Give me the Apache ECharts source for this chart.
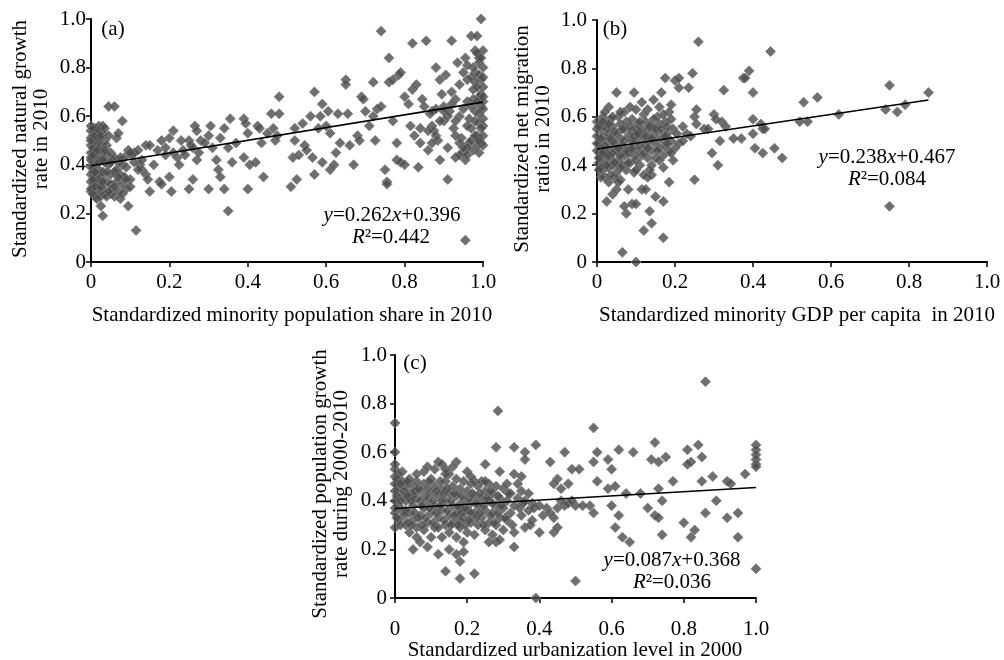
<!DOCTYPE html>
<html><head><meta charset="utf-8">
<script src="https://cdn.jsdelivr.net/npm/echarts@6/dist/echarts.min.js"></script>
<style>html,body{margin:0;padding:0;background:#fff}#c{width:1004px;height:660px}</style>
</head><body><div id="c"></div>
<script>
const tickValues = [0, 0.2, 0.4, 0.6, 0.8, 1.0];

const panelA = [
[0,0.29],[0,0.33],[0,0.36],[0,0.39],[0,0.42],[0,0.45],[0,0.48],[0,0.51],[0,0.54],[0,0.56],[0.005,0.31],[0.005,0.37],[0.005,0.41],[0.005,0.47],[0.005,0.52],[0.01,0.27],[0.01,0.34],[0.01,0.40],[0.01,0.44],[0.01,0.50],[0.01,0.55],[0.015,0.30],[0.015,0.36],[0.015,0.43],[0.015,0.49],[0.015,0.53],[0.02,0.28],[0.02,0.33],[0.02,0.38],[0.02,0.46],[0.02,0.51],[0.02,0.56],[0.025,0.23],[0.025,0.27],[0.025,0.35],[0.025,0.42],[0.025,0.48],[0.03,0.19],[0.03,0.30],[0.03,0.37],[0.03,0.45],[0.03,0.53],[0.03,0.56],[0.035,0.28],[0.035,0.41],[0.035,0.50],[0.04,0.27],[0.04,0.33],[0.04,0.44],[0.04,0.48],[0.045,0.64],[0.045,0.40],[0.05,0.28],[0.05,0.36],[0.05,0.45],[0.055,0.30],[0.055,0.42],[0.06,0.64],[0.06,0.27],[0.06,0.37],[0.06,0.43],[0.065,0.51],[0.065,0.33],[0.07,0.53],[0.07,0.41],[0.07,0.29],[0.075,0.26],[0.075,0.36],[0.08,0.58],[0.08,0.40],[0.08,0.32],[0.085,0.35],[0.085,0.43],[0.09,0.30],[0.09,0.39],[0.095,0.23],[0.095,0.46],[0.10,0.34],[0.10,0.31],[0.105,0.44],[0.11,0.45],[0.115,0.13],[0.12,0.46],[0.125,0.40],[0.13,0.38],[0.13,0.42],[0.14,0.48],[0.14,0.36],[0.145,0.34],[0.15,0.48],[0.15,0.29],[0.16,0.40],[0.17,0.46],[0.175,0.33],[0.18,0.50],[0.18,0.32],[0.19,0.47],[0.19,0.44],[0.20,0.51],[0.20,0.35],[0.205,0.29],[0.21,0.54],[0.21,0.45],[0.22,0.43],[0.225,0.40],[0.23,0.50],[0.235,0.46],[0.24,0.44],[0.25,0.30],[0.25,0.50],[0.255,0.48],[0.26,0.34],[0.26,0.47],[0.265,0.56],[0.27,0.42],[0.27,0.54],[0.275,0.45],[0.28,0.50],[0.29,0.49],[0.30,0.52],[0.30,0.30],[0.305,0.56],[0.31,0.47],[0.32,0.42],[0.325,0.38],[0.33,0.51],[0.33,0.35],[0.34,0.30],[0.34,0.55],[0.35,0.21],[0.35,0.47],[0.355,0.59],[0.36,0.41],[0.37,0.49],[0.39,0.43],[0.39,0.59],[0.395,0.57],[0.40,0.30],[0.40,0.53],[0.405,0.40],[0.42,0.41],[0.425,0.56],[0.43,0.55],[0.435,0.49],[0.44,0.35],[0.45,0.53],[0.46,0.61],[0.465,0.55],[0.47,0.50],[0.475,0.52],[0.48,0.68],[0.48,0.61],[0.51,0.31],[0.515,0.43],[0.52,0.50],[0.52,0.55],[0.525,0.34],[0.53,0.44],[0.54,0.57],[0.545,0.48],[0.55,0.46],[0.56,0.60],[0.565,0.43],[0.57,0.36],[0.57,0.70],[0.58,0.55],[0.585,0.60],[0.59,0.41],[0.59,0.65],[0.60,0.56],[0.605,0.62],[0.61,0.38],[0.61,0.53],[0.62,0.40],[0.625,0.45],[0.63,0.61],[0.635,0.49],[0.65,0.75],[0.65,0.73],[0.655,0.61],[0.66,0.48],[0.67,0.40],[0.68,0.52],[0.685,0.50],[0.69,0.68],[0.695,0.67],[0.70,0.62],[0.71,0.56],[0.72,0.60],[0.72,0.74],[0.725,0.50],[0.73,0.63],[0.74,0.64],[0.74,0.95],[0.75,0.38],[0.755,0.33],[0.755,0.32],[0.76,0.74],[0.76,0.84],[0.77,0.75],[0.77,0.58],[0.78,0.42],[0.78,0.49],[0.785,0.77],[0.79,0.78],[0.79,0.41],[0.80,0.40],[0.80,0.68],[0.81,0.65],[0.815,0.56],[0.82,0.90],[0.82,0.71],[0.825,0.52],[0.83,0.73],[0.835,0.39],[0.84,0.55],[0.84,0.49],[0.845,0.67],[0.85,0.64],[0.855,0.91],[0.86,0.46],[0.865,0.61],[0.87,0.56],[0.87,0.62],[0.875,0.54],[0.88,0.52],[0.88,0.80],[0.885,0.50],[0.89,0.75],[0.89,0.42],[0.895,0.69],[0.90,0.64],[0.90,0.58],[0.905,0.77],[0.91,0.47],[0.91,0.34],[0.915,0.62],[0.92,0.91],[0.92,0.70],[0.925,0.55],[0.93,0.67],[0.93,0.43],[0.935,0.82],[0.94,0.60],[0.94,0.73],[0.945,0.51],[0.95,0.78],[0.95,0.45],[0.955,0.84],[0.955,0.42],[0.96,0.66],[0.96,0.75],[0.965,0.49],[0.965,0.59],[0.97,0.93],[0.97,0.55],[0.975,0.71],[0.975,0.46],[0.98,0.87],[0.98,0.62],[0.98,0.78],[0.985,0.93],[0.985,0.52],[0.99,0.68],[0.99,0.84],[0.99,0.45],[0.99,0.57],[0.995,1.0],[0.995,0.75],[0.995,0.64],[0.995,0.49],[1.0,0.87],[1.0,0.72],[1.0,0.63],[1.0,0.48],[1.0,0.80],[1.0,0.56],[0.955,0.09],[0.985,0.86],[0.99,0.82],[0.995,0.69],[1,0.66],[1,0.59],[0.97,0.64],[0.96,0.47],[0.99,0.61],[0.98,0.74],[0.975,0.80],[0.985,0.48],
[0,0.30],[0,0.43],[0,0.50],[0.005,0.28],[0.005,0.34],[0.005,0.44],[0.005,0.55],[0.01,0.31],[0.01,0.37],[0.01,0.52],[0.015,0.26],[0.015,0.46],[0.02,0.41],[0.02,0.54],[0.025,0.31],[0.025,0.52],[0.03,0.33],[0.03,0.42],[0.035,0.46],[0.035,0.55],[0.04,0.37],[0.045,0.29],[0.045,0.52],[0.05,0.41],[0.05,0.32],[0.06,0.31],[0.065,0.38],[0.07,0.35],[0.075,0.43],[0.08,0.28],[0.09,0.34],[0.1,0.45],[0.11,0.41],[0.12,0.38],
[0.9,0.62],[0.92,0.65],[0.93,0.58],[0.94,0.49],[0.95,0.63],[0.96,0.56],[0.96,0.81],[0.97,0.50],[0.97,0.76],[0.975,0.67],[0.98,0.52],[0.98,0.58],[0.985,0.66],[0.985,0.72],[0.99,0.77],[0.99,0.50],[0.995,0.55],[0.995,0.84],[1.0,0.76],[1.0,0.68],[1.0,0.52],[0.94,0.44],[0.95,0.47],[0.96,0.44],[0.93,0.52],[0.91,0.60],[0.89,0.58],[0.88,0.63],[0.87,0.49],[0.86,0.54]
];

const panelB = [
[0.26,0.91],[0.445,0.87],[0.175,0.76],[0.2,0.75],[0.21,0.76],[0.21,0.72],[0.235,0.72],[0.245,0.78],[0.325,0.71],[0.375,0.76],[0.38,0.76],[0.39,0.79],[0.40,0.70],[0.255,0.63],[0.25,0.60],[0.30,0.61],[0.305,0.59],[0.32,0.58],[0.33,0.56],[0.275,0.55],[0.285,0.55],[0.22,0.56],[0.255,0.57],[0.295,0.45],[0.31,0.40],[0.315,0.50],[0.35,0.51],[0.37,0.51],[0.40,0.59],[0.40,0.53],[0.405,0.47],[0.42,0.57],[0.425,0.55],[0.43,0.55],[0.425,0.45],[0.455,0.47],[0.475,0.43],[0.25,0.34],[0.52,0.58],[0.53,0.66],[0.54,0.58],[0.565,0.68],[0.62,0.61],[0.74,0.63],[0.75,0.73],[0.77,0.62],[0.79,0.65],[0.85,0.70],[0.75,0.23],
[0.065,0.04],[0.10,0.0],[0.17,0.10],[0.12,0.13],[0.14,0.16],[0.135,0.21],[0.075,0.20],[0.07,0.23],[0.09,0.24],[0.10,0.24],[0.025,0.25],[0.04,0.28],[0.05,0.30],[0.08,0.30],[0.115,0.30],[0.125,0.30],[0.15,0.27],[0.17,0.25],[0.185,0.33],[0.14,0.36],[0.13,0.35],[0.17,0.39],[0.195,0.42],
[0.05,0.70],[0.095,0.70],[0.03,0.64],[0.085,0.64],[0.115,0.66],[0.145,0.67],[0.165,0.70],[0.19,0.65],[0.16,0.64],[0.185,0.62],[0.155,0.60],[0.13,0.63],[0.12,0.61],[0.10,0.63],[0.07,0.62],[0.055,0.60],[0.035,0.59],[0.015,0.60],[0.0,0.58],[0.01,0.55],[0.02,0.57],[0.04,0.56],[0.06,0.57],[0.075,0.58],[0.09,0.59],[0.105,0.57],[0.125,0.58],[0.14,0.56],[0.16,0.57],[0.175,0.58],[0.195,0.55],[0.0,0.52],[0.005,0.49],[0.0,0.46],[0.01,0.44],[0.005,0.41],[0.015,0.38],[0.02,0.35],[0.015,0.52],[0.025,0.50],[0.03,0.47],[0.03,0.53],[0.035,0.43],[0.04,0.40],[0.04,0.50],[0.045,0.54],[0.05,0.46],[0.05,0.37],[0.055,0.42],[0.06,0.51],[0.06,0.34],[0.065,0.48],[0.07,0.55],[0.07,0.44],[0.075,0.38],[0.08,0.52],[0.085,0.47],[0.085,0.41],[0.09,0.54],[0.095,0.44],[0.095,0.37],[0.10,0.50],[0.105,0.46],[0.11,0.53],[0.11,0.40],[0.115,0.44],[0.12,0.51],[0.12,0.36],[0.125,0.48],[0.13,0.54],[0.13,0.43],[0.135,0.50],[0.14,0.46],[0.145,0.52],[0.15,0.49],[0.15,0.43],[0.155,0.54],[0.16,0.47],[0.165,0.51],[0.17,0.44],[0.175,0.48],[0.18,0.53],[0.185,0.46],[0.19,0.50],[0.2,0.47],[0.21,0.49],[0.22,0.50],[0.23,0.53],[0.24,0.52],[0.205,0.53],[0.0,0.49],[0.0,0.55],[0.01,0.47],[0.02,0.42],[0.025,0.45],[0.045,0.35],[0.055,0.33],[0.065,0.40],[0.08,0.45],[0.09,0.50],[0.1,0.55],[0.14,0.40],[0.16,0.42],[0.18,0.56],[0.145,0.59],[0.03,0.39],[0.02,0.62],[0.06,0.62],[0.11,0.58],[0.19,0.59],[0.17,0.61],
[0.005,0.43],[0.005,0.56],[0.01,0.39],[0.01,0.51],[0.015,0.45],[0.015,0.58],[0.02,0.48],[0.025,0.40],[0.025,0.55],[0.03,0.44],[0.035,0.51],[0.035,0.36],[0.04,0.45],[0.04,0.60],[0.045,0.41],[0.045,0.49],[0.05,0.53],[0.055,0.47],[0.06,0.44],[0.065,0.55],[0.07,0.50],[0.075,0.46],[0.08,0.41],[0.085,0.56],[0.09,0.47],[0.095,0.52],[0.1,0.42],[0.105,0.53],[0.11,0.48],[0.115,0.55],[0.12,0.45],[0.125,0.52],[0.13,0.47],[0.135,0.56],[0.14,0.51],[0.15,0.55],[0.155,0.46],[0.165,0.55],[0.175,0.52],[0.18,0.49],[0.19,0.45],[0.06,0.39],[0.03,0.57],[0.01,0.35],[0.005,0.38],[0.03,0.33],[0.1,0.38],[0.135,0.38]
];

const panelC = [
[0.285,0.77],[0.86,0.89],[0.0,0.72],[0.0,0.60],[0.55,0.70],[0.39,0.63],[0.72,0.64],[0.84,0.63],[1.0,0.63],[1.0,0.61],[1.0,0.59],[1.0,0.57],[1.0,0.55],[1.0,0.54],[0.28,0.62],[0.33,0.62],[0.36,0.60],[0.36,0.57],[0.43,0.56],[0.47,0.60],[0.56,0.60],[0.55,0.56],[0.59,0.57],[0.62,0.61],[0.66,0.60],[0.71,0.57],[0.73,0.56],[0.75,0.58],[0.81,0.61],[0.82,0.56],[0.81,0.55],[0.85,0.58],[0.97,0.51],[0.77,0.48],[0.88,0.50],[0.85,0.48],[0.92,0.48],[0.93,0.47],[0.6,0.53],[0.61,0.46],[0.59,0.45],[0.64,0.43],[0.68,0.43],[0.73,0.45],[0.56,0.48],[0.49,0.53],[0.51,0.53],[0.48,0.47],[0.45,0.49],[0.44,0.47],[0.46,0.45],[0.89,0.40],[0.74,0.40],[0.7,0.37],[0.72,0.34],[0.73,0.33],[0.54,0.38],[0.55,0.35],[0.6,0.38],[0.61,0.29],[0.62,0.34],[0.63,0.25],[0.65,0.23],[0.74,0.26],[0.8,0.31],[0.83,0.28],[0.82,0.25],[0.86,0.35],[0.92,0.33],[0.95,0.35],[0.95,0.25],[1.0,0.12],[0.5,0.07],[0.39,0.0],[0.4,0.27],[0.44,0.27],[0.45,0.29],[0.47,0.38],[0.42,0.37],[0.41,0.34],[0.44,0.33],[0.38,0.39],[0.5,0.38],[0.48,0.39],[0.52,0.38],[0.33,0.21],[0.18,0.08],[0.22,0.10],[0.14,0.11],[0.18,0.15],[0.05,0.20],[0.09,0.21],[0.12,0.18],[0.15,0.20],[0.17,0.18],[0.19,0.19],[0.26,0.23],[0.28,0.23],[0.29,0.24],
[0,0.29],[0,0.35],[0,0.40],[0,0.44],[0,0.47],[0,0.50],[0,0.53],[0,0.55],[0.01,0.32],[0.01,0.38],[0.01,0.45],[0.02,0.42],[0.02,0.36],[0.02,0.48],[0.03,0.30],[0.03,0.40],[0.03,0.46],[0.04,0.27],[0.04,0.35],[0.04,0.43],[0.04,0.49],[0.05,0.32],[0.05,0.38],[0.05,0.46],[0.06,0.25],[0.06,0.29],[0.06,0.41],[0.06,0.48],[0.07,0.23],[0.07,0.34],[0.07,0.44],[0.08,0.28],[0.08,0.37],[0.08,0.47],[0.08,0.52],[0.09,0.31],[0.09,0.40],[0.09,0.54],[0.10,0.25],[0.10,0.35],[0.10,0.43],[0.10,0.49],[0.11,0.29],[0.11,0.38],[0.11,0.46],[0.12,0.33],[0.12,0.42],[0.12,0.56],[0.13,0.25],[0.13,0.36],[0.13,0.45],[0.13,0.55],[0.14,0.30],[0.14,0.40],[0.14,0.48],[0.15,0.27],[0.15,0.34],[0.15,0.43],[0.15,0.51],[0.16,0.31],[0.16,0.38],[0.16,0.46],[0.17,0.25],[0.17,0.35],[0.17,0.42],[0.17,0.49],[0.17,0.56],[0.18,0.29],[0.18,0.37],[0.18,0.45],[0.19,0.23],[0.19,0.33],[0.19,0.40],[0.19,0.48],[0.20,0.27],[0.20,0.36],[0.20,0.44],[0.20,0.52],[0.21,0.31],[0.21,0.39],[0.21,0.47],[0.22,0.26],[0.22,0.35],[0.22,0.42],[0.23,0.30],[0.23,0.38],[0.23,0.46],[0.24,0.33],[0.24,0.41],[0.25,0.28],[0.25,0.36],[0.25,0.44],[0.25,0.55],[0.26,0.31],[0.26,0.40],[0.26,0.47],[0.27,0.26],[0.27,0.35],[0.27,0.43],[0.28,0.30],[0.28,0.38],[0.28,0.46],[0.29,0.33],[0.29,0.41],[0.29,0.52],[0.30,0.28],[0.30,0.37],[0.30,0.45],[0.31,0.32],[0.31,0.40],[0.32,0.35],[0.32,0.43],[0.33,0.27],[0.33,0.38],[0.33,0.51],[0.34,0.41],[0.34,0.47],[0.35,0.34],[0.35,0.44],[0.35,0.50],[0.36,0.29],[0.36,0.40],[0.37,0.36],[0.37,0.43],[0.38,0.32],[0.02,0.52],[0.05,0.42],[0.11,0.53],[0.14,0.51],[0.16,0.54],[0.22,0.48],[0.24,0.48],[0.03,0.36],[0.07,0.40],[0.12,0.29],[0.18,0.32],[0.21,0.35],[0.27,0.39],[0.31,0.47],[0.09,0.45],[0.13,0.40],[0.01,0.51],[0.0,0.37],
[0.005,0.33],[0.005,0.42],[0.005,0.49],[0.015,0.30],[0.015,0.40],[0.015,0.47],[0.025,0.34],[0.025,0.44],[0.035,0.31],[0.035,0.42],[0.035,0.48],[0.045,0.30],[0.045,0.40],[0.055,0.35],[0.055,0.44],[0.065,0.33],[0.065,0.45],[0.075,0.30],[0.075,0.38],[0.085,0.42],[0.085,0.33],[0.095,0.37],[0.095,0.48],[0.105,0.31],[0.105,0.40],[0.115,0.35],[0.115,0.44],[0.125,0.38],[0.125,0.48],[0.135,0.32],[0.135,0.43],[0.145,0.36],[0.145,0.45],[0.155,0.30],[0.155,0.40],[0.165,0.34],[0.165,0.43],[0.175,0.30],[0.175,0.38],[0.185,0.42],[0.185,0.35],[0.195,0.30],[0.195,0.37],[0.205,0.41],[0.205,0.32],[0.215,0.43],[0.225,0.33],[0.225,0.39],[0.235,0.35],[0.235,0.43],[0.245,0.30],[0.245,0.38],[0.255,0.41],[0.265,0.34],[0.265,0.44],[0.275,0.31],[0.285,0.35],[0.285,0.42],[0.295,0.38],[0.305,0.33],[0.315,0.43],[0.325,0.30],[0.345,0.37],[0.355,0.39],[0.375,0.30],[0.385,0.37],[0.25,0.48],[0.21,0.50],[0.14,0.53],[0.06,0.51],[0.4,0.38],[0.43,0.35],[0.46,0.40],[0.45,0.37],[0.49,0.40]
];

// regression fits: [slope, intercept], x-range of line
const fitA = [0.262, 0.396], rangeA = [0, 1.0];
const fitB = [0.238, 0.467], rangeB = [0, 0.85];
const fitC = [0.087, 0.368], rangeC = [0, 1.0];

const FONT = '"Liberation Serif", "Times New Roman", serif';

function fitLine(f, r) { return r.map(x => [x, f[0] * x + f[1]]); }

function axisCommon(margin) {
  return {
    type: 'value', min: 0, max: 1, interval: 0.2,
    axisLine: { show: true, lineStyle: { color: '#000', width: 2 } },
    axisTick: { show: true, inside: false, length: 5, lineStyle: { color: '#000', width: 1.5 } },
    splitLine: { show: false },
    axisLabel: { color: '#000', fontFamily: FONT, fontSize: 21, margin: margin,
      formatter: v => v === 0 ? '0' : v.toFixed(1) }
  };
}

const grids = [
  { left: 91, top: 19, width: 392, height: 243 },
  { left: 597, top: 20, width: 390, height: 242 },
  { left: 395, top: 355, width: 361, height: 243 }
];

const xMargins = [10, 10, 21];
const yMargins = [5, 10, 8];

const mk = { color: '#4b4b4b', borderColor: '#7a7a7a', borderWidth: 1 };

const scatterData = [panelA, panelB, panelC];
const fits = [fitLine(fitA, rangeA), fitLine(fitB, rangeB), fitLine(fitC, rangeC)];

const series = [];
scatterData.forEach((d, i) => {
  series.push({ type: 'scatter', xAxisIndex: i, yAxisIndex: i, data: d, symbol: 'diamond',
    symbolSize: 10, itemStyle: mk, z: 2, silent: true });
  series.push({ type: 'line', xAxisIndex: i, yAxisIndex: i, data: fits[i], showSymbol: false,
    lineStyle: { color: '#000', width: 1.6 }, z: 3, silent: true });
});

function txt(x, y, text) {
  return { type: 'text', x: x, y: y, style: { text: text,
    font: '21px ' + FONT, fill: '#000', align: 'center', verticalAlign: 'middle' } };
}
function rotTxt(x, y, text) {
  return { type: 'text', x: x, y: y, rotation: Math.PI / 2,
    style: { text: text, font: '21px ' + FONT, fill: '#000', align: 'center', verticalAlign: 'middle', lineHeight: 21 } };
}
const rich = { i: { fontStyle: 'italic', fontFamily: FONT, fontSize: 21 }, n: { fontFamily: FONT, fontSize: 21 } };
function eq(x, y, s) {
  return { type: 'text', x: x, y: y, style: { text: s, rich: rich, fill: '#000', align: 'center', verticalAlign: 'middle', font: '21px ' + FONT } };
}

const graphic = [
  txt(113, 29, '(a)'), txt(615, 29, '(b)'), txt(415, 363, '(c)'),
  rotTxt(31, 139, 'Standardized natural growth\nrate in 2010'),
  rotTxt(533, 139, 'Standardized net migration\nratio in 2010'),
  rotTxt(331, 484, 'Standardized population growth\nrate during 2000-2010'),
  txt(292, 315, 'Standardized minority population share in 2010'),
  txt(797, 315, 'Standardized minority GDP per capita  in 2010'),
  txt(575, 650, 'Standardized urbanization level in 2000'),
  eq(392, 215, '{i|y}{n|=0.262}{i|x}{n|+0.396}'),
  eq(391, 237, '{i|R}{n|\u00b2=0.442}'),
  eq(887, 157, '{i|y}{n|=0.238}{i|x}{n|+0.467}'),
  eq(887, 179, '{i|R}{n|\u00b2=0.084}'),
  eq(672, 560, '{i|y}{n|=0.087}{i|x}{n|+0.368}'),
  eq(672, 582, '{i|R}{n|\u00b2=0.036}')
];

const chart = echarts.init(document.getElementById('c'), null, { renderer: 'canvas' });
chart.setOption({
  animation: false,
  backgroundColor: '#fff',
  grid: grids,
  xAxis: grids.map((g, i) => Object.assign(axisCommon(xMargins[i]), { gridIndex: i })),
  yAxis: grids.map((g, i) => Object.assign(axisCommon(yMargins[i]), { gridIndex: i })),
  series: series,
  graphic: graphic
});
</script></body></html>
